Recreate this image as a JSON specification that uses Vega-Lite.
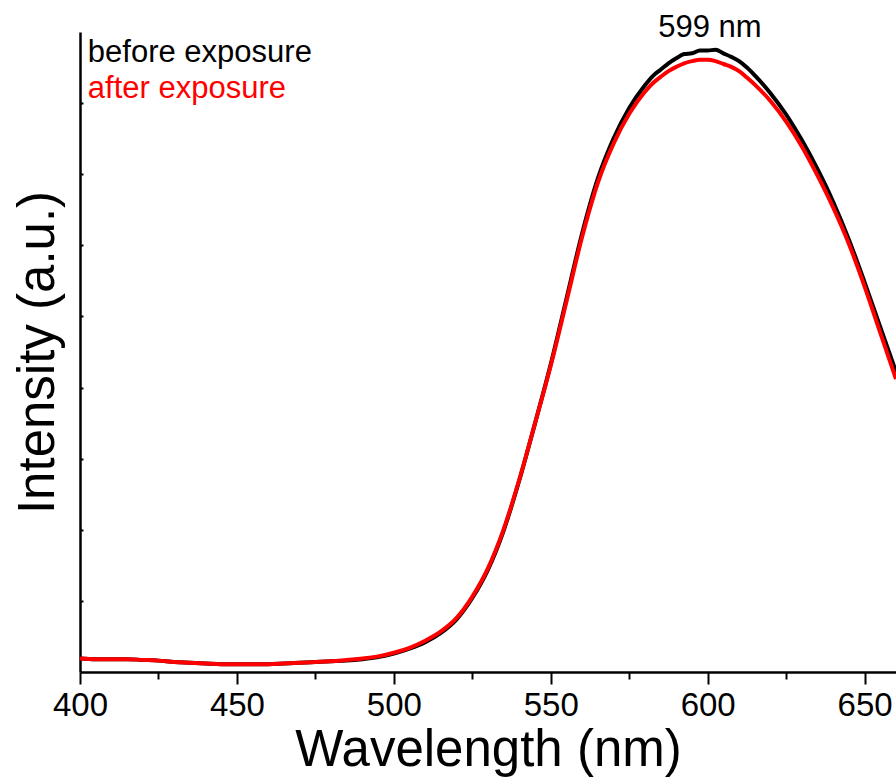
{
  "$schema": "https://vega.github.io/schema/vega-lite/v6.json",
  "autosize": {"type": "none"},
  "padding": {"left": 80, "top": 32, "right": 0, "bottom": 112},
  "width": 816,
  "height": 640,
  "background": "white",
  "config": {
    "view": {"stroke": null},
    "font": "Liberation Sans"
  },
  "datasets": {
    "spectra": [
      {"nm": 400, "before": 0.19, "after": 0.19},
      {"nm": 405, "before": 0.18, "after": 0.18},
      {"nm": 410, "before": 0.18, "after": 0.18},
      {"nm": 415, "before": 0.18, "after": 0.18},
      {"nm": 420, "before": 0.17, "after": 0.17},
      {"nm": 425, "before": 0.16, "after": 0.16},
      {"nm": 430, "before": 0.14, "after": 0.14},
      {"nm": 435, "before": 0.13, "after": 0.13},
      {"nm": 440, "before": 0.12, "after": 0.12},
      {"nm": 445, "before": 0.11, "after": 0.11},
      {"nm": 450, "before": 0.11, "after": 0.11},
      {"nm": 455, "before": 0.11, "after": 0.11},
      {"nm": 460, "before": 0.11, "after": 0.11},
      {"nm": 465, "before": 0.12, "after": 0.12},
      {"nm": 470, "before": 0.13, "after": 0.13},
      {"nm": 475, "before": 0.14, "after": 0.14},
      {"nm": 480, "before": 0.15, "after": 0.15},
      {"nm": 485, "before": 0.16, "after": 0.17},
      {"nm": 490, "before": 0.18, "after": 0.19},
      {"nm": 495, "before": 0.21, "after": 0.22},
      {"nm": 500, "before": 0.26, "after": 0.27},
      {"nm": 505, "before": 0.33, "after": 0.34},
      {"nm": 510, "before": 0.42, "after": 0.44},
      {"nm": 515, "before": 0.55, "after": 0.57},
      {"nm": 520, "before": 0.74, "after": 0.76},
      {"nm": 525, "before": 1.04, "after": 1.06},
      {"nm": 530, "before": 1.44, "after": 1.46},
      {"nm": 535, "before": 1.99, "after": 2.01},
      {"nm": 540, "before": 2.70, "after": 2.71},
      {"nm": 545, "before": 3.50, "after": 3.50},
      {"nm": 550, "before": 4.33, "after": 4.31},
      {"nm": 555, "before": 5.25, "after": 5.21},
      {"nm": 560, "before": 6.17, "after": 6.12},
      {"nm": 565, "before": 6.94, "after": 6.88},
      {"nm": 570, "before": 7.50, "after": 7.43},
      {"nm": 575, "before": 7.93, "after": 7.85},
      {"nm": 580, "before": 8.25, "after": 8.16},
      {"nm": 582.5, "before": 8.38, "after": 8.28},
      {"nm": 585, "before": 8.47, "after": 8.37},
      {"nm": 587.5, "before": 8.56, "after": 8.45},
      {"nm": 590, "before": 8.63, "after": 8.51},
      {"nm": 592.5, "before": 8.69, "after": 8.56},
      {"nm": 595, "before": 8.70, "after": 8.59},
      {"nm": 597.5, "before": 8.74, "after": 8.61},
      {"nm": 600, "before": 8.74, "after": 8.61},
      {"nm": 602.5, "before": 8.75, "after": 8.59},
      {"nm": 605, "before": 8.70, "after": 8.55},
      {"nm": 607.5, "before": 8.65, "after": 8.51},
      {"nm": 610, "before": 8.59, "after": 8.45},
      {"nm": 612.5, "before": 8.50, "after": 8.36},
      {"nm": 615, "before": 8.39, "after": 8.26},
      {"nm": 620, "before": 8.14, "after": 8.03},
      {"nm": 625, "before": 7.84, "after": 7.74},
      {"nm": 630, "before": 7.48, "after": 7.39},
      {"nm": 635, "before": 7.07, "after": 6.98},
      {"nm": 640, "before": 6.61, "after": 6.53},
      {"nm": 645, "before": 6.08, "after": 6.02},
      {"nm": 650, "before": 5.48, "after": 5.42},
      {"nm": 655, "before": 4.85, "after": 4.77},
      {"nm": 660, "before": 4.22, "after": 4.12}
    ],
    "labels": [
      {"nm": 402.5, "I": 8.58, "text": "before exposure", "color": "black"},
      {"nm": 402.5, "I": 8.07, "text": "after exposure", "color": "red"}
    ],
    "peak": [
      {"nm": 600.7, "I": 8.93, "text": "599 nm"}
    ]
  },
  "layer": [
    {
      "data": {"name": "spectra"},
      "mark": {"type": "line", "color": "#000000", "strokeWidth": 4, "interpolate": "monotone"},
      "encoding": {
        "x": {
          "field": "nm", "type": "quantitative",
          "scale": {"domain": [400, 660], "nice": false, "zero": false},
          "axis": {
            "title": "Wavelength (nm)",
            "values": [400, 425, 450, 475, 500, 525, 550, 575, 600, 625, 650],
            "labelExpr": "datum.value % 50 === 0 ? datum.label : ''",
            "tickSize": {"condition": {"test": "datum.value % 50 === 0", "value": 12}, "value": 7},
            "grid": false,
            "domainColor": "black", "domainWidth": 2.5,
            "tickColor": "black", "tickWidth": 2,
            "labelFont": "Liberation Sans", "labelFontSize": 33, "labelColor": "black",
            "labelPadding": 5,
            "labelFlush": false,
            "titleFont": "Liberation Sans", "titleFontSize": 51, "titleFontWeight": "normal", "titleColor": "black",
            "titlePadding": 3
          }
        },
        "y": {
          "field": "before", "type": "quantitative",
          "scale": {"domain": [0, 9], "nice": false, "zero": false},
          "axis": {
            "title": "Intensity (a.u.)",
            "values": [1, 2, 3, 4, 5, 6, 7, 8],
            "labels": false,
            "grid": false,
            "tickSize": -3,
            "tickColor": "black", "tickWidth": 2,
            "domainColor": "black", "domainWidth": 2.5,
            "titleFont": "Liberation Sans", "titleFontSize": 51, "titleFontWeight": "normal", "titleColor": "black",
            "titlePadding": 15
          }
        }
      }
    },
    {
      "data": {"name": "spectra"},
      "mark": {"type": "line", "color": "#ff0000", "strokeWidth": 4, "interpolate": "monotone"},
      "encoding": {
        "x": {"field": "nm", "type": "quantitative"},
        "y": {"field": "after", "type": "quantitative"}
      }
    },
    {
      "data": {"name": "labels"},
      "mark": {"type": "text", "align": "left", "baseline": "alphabetic", "fontSize": 31, "font": "Liberation Sans"},
      "encoding": {
        "x": {"field": "nm", "type": "quantitative"},
        "y": {"field": "I", "type": "quantitative"},
        "text": {"field": "text"},
        "color": {"field": "color", "type": "nominal", "scale": null}
      }
    },
    {
      "data": {"name": "peak"},
      "mark": {"type": "text", "align": "center", "baseline": "alphabetic", "fontSize": 31, "font": "Liberation Sans", "color": "black"},
      "encoding": {
        "x": {"field": "nm", "type": "quantitative"},
        "y": {"field": "I", "type": "quantitative"},
        "text": {"field": "text"}
      }
    }
  ]
}
